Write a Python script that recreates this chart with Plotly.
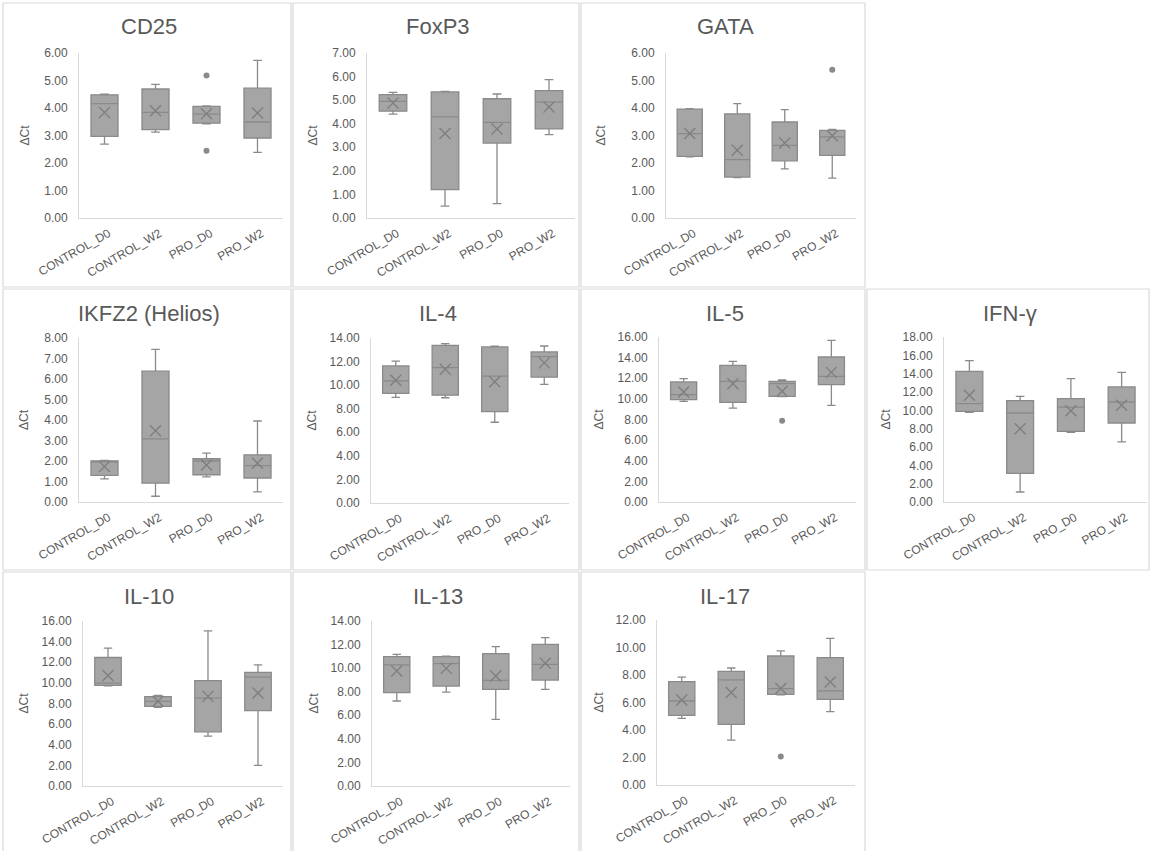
import plotly.graph_objects as go

# ---- data -------------------------------------------------------------
GENES = ["CD25", "FoxP3", "GATA", "IKFZ2 (Helios)", "IL-4", "IL-5",
         "IFN-γ", "IL-10", "IL-13", "IL-17"]
GROUPS = ["CONTROL_D0", "CONTROL_W2", "PRO_D0", "PRO_W2"]

# five-number summaries per gene, in GROUPS order
LOWER = [
    [2.69, 3.12, 3.42, 2.39],
    [4.41, 0.50, 0.61, 3.54],
    [2.22, 1.47, 1.79, 1.45],
    [1.13, 0.28, 1.23, 0.49],
    [8.96, 8.93, 6.85, 10.06],
    [9.76, 9.11, 10.22, 9.37],
    [9.78, 1.09, 7.60, 6.55],
    [9.70, 7.63, 4.83, 2.00],
    [7.21, 7.97, 5.66, 8.20],
    [4.85, 3.27, 6.55, 5.33],
]
Q1 = [
    [2.97, 3.21, 3.45, 2.91],
    [4.53, 1.20, 3.18, 3.78],
    [2.24, 1.49, 2.08, 2.28],
    [1.30, 0.92, 1.33, 1.17],
    [9.30, 9.15, 7.75, 10.68],
    [9.92, 9.66, 10.25, 11.38],
    [9.89, 3.13, 7.71, 8.62],
    [9.76, 7.73, 5.25, 7.31],
    [7.92, 8.48, 8.20, 8.99],
    [5.07, 4.41, 6.59, 6.23],
]
MEDIAN = [
    [4.16, 3.84, 3.78, 3.49],
    [4.95, 4.29, 4.06, 4.92],
    [3.07, 2.12, 2.64, 2.95],
    [1.97, 3.08, 2.00, 1.77],
    [10.37, 11.49, 10.76, 12.42],
    [10.41, 11.70, 11.47, 12.18],
    [10.73, 9.71, 10.36, 10.91],
    [9.98, 8.21, 8.53, 10.56],
    [10.27, 10.38, 8.96, 10.32],
    [6.11, 7.64, 7.01, 6.84],
]
Q3 = [
    [4.48, 4.69, 4.06, 4.72],
    [5.23, 5.35, 5.06, 5.40],
    [3.96, 3.79, 3.49, 3.19],
    [2.01, 6.38, 2.11, 2.30],
    [11.63, 13.38, 13.24, 12.82],
    [11.64, 13.25, 11.70, 14.06],
    [14.25, 11.05, 11.27, 12.55],
    [12.46, 8.66, 10.21, 11.01],
    [10.97, 10.97, 11.23, 12.02],
    [7.52, 8.27, 9.38, 9.26],
]
UPPER = [
    [4.50, 4.86, 4.08, 5.73],
    [5.33, 5.37, 5.26, 5.87],
    [3.98, 4.16, 3.94, 3.22],
    [2.03, 7.45, 2.38, 3.95],
    [12.03, 13.52, 13.30, 13.32],
    [11.96, 13.64, 11.83, 15.68],
    [15.42, 11.53, 13.45, 14.15],
    [13.36, 8.79, 15.04, 11.75],
    [11.17, 11.02, 11.82, 12.59],
    [7.85, 8.51, 9.75, 10.67],
]
MEAN = [
    [3.84, 3.90, 3.79, 3.82],
    [4.88, 3.58, 3.78, 4.71],
    [3.07, 2.46, 2.73, 2.99],
    [1.73, 3.48, 1.81, 1.89],
    [10.42, 11.35, 10.28, 11.89],
    [10.67, 11.47, 10.73, 12.57],
    [11.64, 8.00, 9.96, 10.55],
    [10.72, 8.21, 8.69, 9.01],
    [9.76, 9.98, 9.33, 10.41],
    [6.18, 6.72, 7.01, 7.49],
]
# points beyond the whiskers: (group, value)
OUTLIERS = [
    [("PRO_D0", 5.18), ("PRO_D0", 2.45)],
    [],
    [("PRO_W2", 5.39)],
    [],
    [],
    [("PRO_D0", 7.89)],
    [],
    [],
    [],
    [("PRO_D0", 2.08)],
]
Y_MAX = [6, 7, 6, 8, 14, 16, 18, 16, 14, 12]
Y_STEP = [1, 1, 1, 1, 2, 2, 2, 2, 2, 2]
Y_TITLE = "ΔCt"

# ---- layout geometry (pixels) ----------------------------------------
W, H = 1150, 851
# plot area: left, right, top, bottom, y-title x
PLOT_BOX = [
    (79, 283, 53, 218, 25),
    (367, 575, 53, 218, 313),
    (666, 856, 53, 218, 601),
    (79, 283, 338, 502, 24),
    (371, 569, 338, 503, 311),
    (659, 856, 337, 502, 598),
    (944, 1147, 337, 502, 885),
    (83, 283, 621, 786, 23),
    (372, 570, 621, 786, 313),
    (657, 855, 620, 785, 598),
]
# outer frame of each chart: left, right, top, bottom
FRAME = [
    (3, 291, 3, 287), (293, 579, 3, 287), (581, 865, 3, 287),
    (3, 291, 289, 570), (293, 579, 289, 570), (581, 865, 289, 570),
    (867, 1149, 289, 570),
    (3, 291, 572, 853), (293, 579, 572, 853), (581, 865, 572, 853),
]

TEXT = "#595959"
AXIS = "#D9D9D9"
BOX_FILL = "#A5A5A5"
BOX_LINE = "#8A8A8A"
MARK = "#7F7F7F"
FONT = "Liberation Sans, Arial, sans-serif"


def px(x):
    return x / W


def py(y):
    return 1 - y / H


fig = go.Figure()
shapes, annotations = [], []

for i, gene in enumerate(GENES):
    n = "" if i == 0 else str(i + 1)
    xa, ya = "x" + n, "y" + n
    x0, x1, yt, yb, ytx = PLOT_BOX[i]

    fig.add_trace(go.Box(
        x=GROUPS, lowerfence=LOWER[i], q1=Q1[i], median=MEDIAN[i],
        q3=Q3[i], upperfence=UPPER[i],
        xaxis=xa, yaxis=ya, width=0.53, whiskerwidth=0.32,
        fillcolor=BOX_FILL, line=dict(color=BOX_LINE, width=1.3),
        boxpoints=False, showlegend=False, name=gene,
    ))
    fig.add_trace(go.Scatter(
        x=GROUPS, y=MEAN[i], mode="markers", xaxis=xa, yaxis=ya,
        marker=dict(symbol="x-thin", size=11,
                    line=dict(color=MARK, width=1.4)),
        showlegend=False, hoverinfo="y",
    ))
    if OUTLIERS[i]:
        fig.add_trace(go.Scatter(
            x=[g for g, _ in OUTLIERS[i]], y=[v for _, v in OUTLIERS[i]],
            mode="markers", xaxis=xa, yaxis=ya,
            marker=dict(symbol="circle", size=6, color=BOX_LINE),
            showlegend=False, hoverinfo="y",
        ))

    fig.layout["xaxis" + n] = dict(
        domain=[px(x0), px(x1)], anchor=ya, type="category",
        categoryorder="array", categoryarray=GROUPS, range=[-0.5, 3.5],
        showline=True, linecolor=AXIS, linewidth=1, showgrid=False,
        ticks="", tickangle=-30, fixedrange=True, automargin=False,
        ticklabelshift=4, ticklabelstandoff=3,
        tickfont=dict(family=FONT, size=12, color=TEXT),
    )
    fig.layout["yaxis" + n] = dict(
        domain=[py(yb), py(yt)], anchor=xa, range=[0, Y_MAX[i]],
        dtick=Y_STEP[i], tick0=0, tickformat=".2f",
        showline=True, linecolor=AXIS, linewidth=1, showgrid=False,
        zeroline=False, ticks="", ticklabelstandoff=8, fixedrange=True,
        automargin=False,
        tickfont=dict(family=FONT, size=12, color=TEXT),
    )

    fx0, fx1, fy0, fy1 = FRAME[i]
    shapes.append(dict(type="rect", xref="paper", yref="paper",
                       x0=px(fx0), x1=px(fx1), y0=py(fy1), y1=py(fy0),
                       line=dict(color=AXIS, width=1.2), layer="below"))
    annotations.append(dict(
        text=gene, xref="paper", yref="paper",
        x=px((fx0 + fx1) / 2 + 2), y=py(fy0 + 24),
        xanchor="center", yanchor="middle", showarrow=False,
        font=dict(family=FONT, size=22, color=TEXT),
    ))
    annotations.append(dict(
        text=Y_TITLE, xref="paper", yref="paper",
        x=px(ytx), y=py((yt + yb) / 2), textangle=-90,
        xanchor="center", yanchor="middle", showarrow=False,
        font=dict(family=FONT, size=12, color=TEXT),
    ))

fig.update_layout(
    width=W, height=H, margin=dict(l=0, r=0, t=0, b=0, autoexpand=False),
    paper_bgcolor="white", plot_bgcolor="white",
    shapes=shapes, annotations=annotations, boxmode="overlay",
    showlegend=False,
)

fig.write_html("out.html", config={"displayModeBar": False})
